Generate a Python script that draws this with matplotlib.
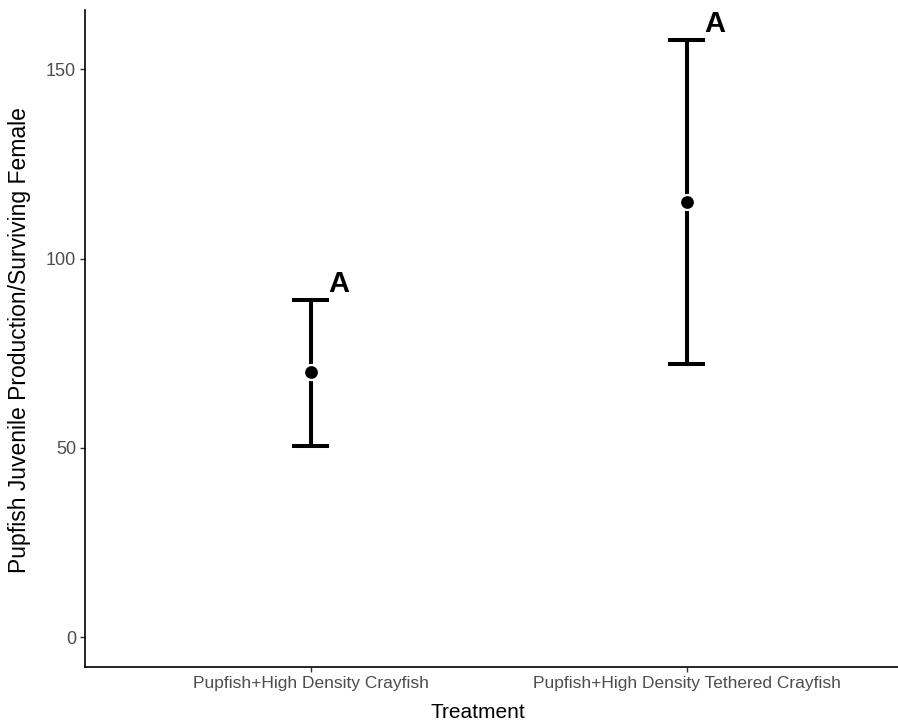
import matplotlib.pyplot as plt

treatments = ["Pupfish+High Density Crayfish", "Pupfish+High Density Tethered Crayfish"]
means = [70.0, 115.0]
lower = [50.5, 72.2]
upper = [89.2, 157.8]
letters = ["A", "A"]

plt.rcParams['font.family'] = ['Liberation Sans', 'DejaVu Sans']

fig = plt.figure(figsize=(8.98, 7.26), dpi=100)
ax = fig.add_axes([85 / 898, 59 / 726, 1 - 85 / 898, 657 / 726])

xpos = list(range(1, len(treatments) + 1))
for x, m, lo, hi, lab in zip(xpos, means, lower, upper, letters):
    ax.plot([x, x], [lo, hi], color='black', lw=2.9, solid_capstyle='butt', zorder=2)
    ax.plot([x - 0.05, x + 0.05], [lo, lo], color='black', lw=2.9, solid_capstyle='butt', zorder=2)
    ax.plot([x - 0.05, x + 0.05], [hi, hi], color='black', lw=2.9, solid_capstyle='butt', zorder=2)
    ax.plot(x, m, 'o', color='black', markersize=10.8, markeredgecolor='white',
            markeredgewidth=1.6, zorder=3)
    ax.text(x + 0.048, hi + 0.5, lab, ha='left', va='bottom', fontsize=21,
            fontweight='bold')

ax.set_xlim(0.4, 0.4 + (898 - 85) / 376)
ax.set_ylim(-7.9, 165.7)
ax.set_xticks(xpos)
ax.set_xticklabels(treatments, fontsize=12.5, color='#4D4D4D')
ax.set_yticks([0, 50, 100, 150])
ax.set_yticklabels(["0", "50", "100", "150"], fontsize=13, color='#4D4D4D')
ax.tick_params(length=3.5, width=1, color='#333333', pad=3)
for s in ['top', 'right']:
    ax.spines[s].set_visible(False)
for s in ['left', 'bottom']:
    ax.spines[s].set_linewidth(1.2)
    ax.spines[s].set_color('black')

fig.text(478 / 898, 1 - 713 / 726, "Treatment", ha='center', va='center',
         fontsize=15)
fig.text(20 / 898, 1 - 340 / 726, "Pupfish Juvenile Production/Surviving Female",
         ha='center', va='center', rotation=90, fontsize=16.5)

fig.savefig("out.png", dpi=100)
